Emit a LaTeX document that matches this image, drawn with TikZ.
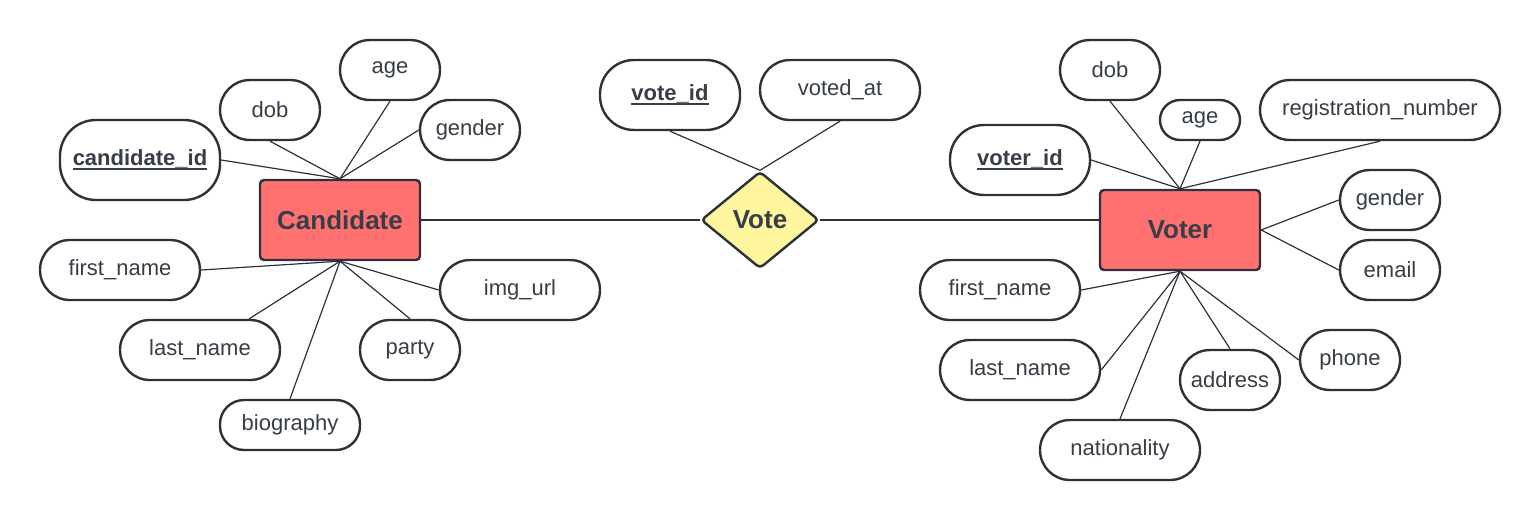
\documentclass[tikz,border=0pt]{standalone}
\usepackage{fontspec}
\setmainfont{Liberation Sans}
\usetikzlibrary{positioning,shapes.geometric}

\definecolor{inkc}{RGB}{55,62,71}
\definecolor{edgec}{RGB}{45,50,58}
\definecolor{entc}{RGB}{255,112,112}
\definecolor{relc}{RGB}{255,245,157}

% thick underline for key attributes
\newcommand\keyul[1]{\setbox0\hbox{#1}\rlap{\rule[-2.2pt]{\wd0}{0.9pt}}\box0}

\begin{document}
\begin{tikzpicture}[on grid,
    entity/.style={draw=edgec,fill=entc,line width=1.2pt,rounded corners=2pt,
      minimum width=80pt,minimum height=40pt,inner sep=0pt,text=inkc,
      font=\fontsize{13}{15}\selectfont\bfseries},
    rel/.style={diamond,draw=edgec,fill=relc,line width=1.2pt,rounded corners=2pt,
      minimum width=59pt,minimum height=48.5pt,inner sep=0pt,text=inkc,
      font=\fontsize{13}{15}\selectfont\bfseries},
    attr/.style={draw=edgec,fill=white,line width=1.2pt,rounded corners=15pt,
      minimum width=50pt,minimum height=30pt,inner sep=0pt,text=inkc,
      font=\fontsize{11}{13}\selectfont},
    wide/.style={attr,minimum width=80pt},
    key/.style={font=\fontsize{11}{13}\selectfont\bfseries},
    link/.style={color=edgec,line width=0.6pt}]
  % entities and relationship
  \node[entity] (cand) {Candidate};
  \node[rel] (vote) [right=210pt of cand] {Vote};
  \node[entity] (voter) [below right=5pt and 210pt of vote] {Voter};

  \useasboundingbox (-170pt,110pt) rectangle (600pt,-150pt);

  % candidate attributes
  \node[attr] (cage) [above right=75pt and 25pt of cand] {age};
  \node[attr] (cdob) [above left=55pt and 35pt of cand] {dob};
  \node[attr] (cgender) [above right=45pt and 65pt of cand] {gender};
  \node[wide,key,minimum height=40pt,rounded corners=18pt] (cid) [above left=30pt and 100pt of cand] {\keyul{candidate\_id}};
  \node[wide] (cfirst) [below left=25pt and 110pt of cand] {first\_name};
  \node[wide] (cimg) [below right=35pt and 90pt of cand] {img\_url};
  \node[wide] (clast) [below left=65pt and 70pt of cand] {last\_name};
  \node[attr] (cparty) [below right=65pt and 35pt of cand] {party};
  \node[attr,minimum width=70pt,minimum height=25pt,rounded corners=12pt] (cbio) [below left=102.5pt and 25pt of cand] {biography};

  % vote attributes
  \node[attr,key,minimum width=70pt,minimum height=35pt,rounded corners=17pt] (vid) [above left=62.5pt and 45pt of vote] {\keyul{vote\_id}};
  \node[wide] (vat) [above right=65pt and 40pt of vote] {voted\_at};

  % voter attributes
  \node[attr] (rdob) [above left=80pt and 35pt of voter] {dob};
  \node[attr,minimum width=40pt,minimum height=20pt,rounded corners=10pt] (rage) [above right=55pt and 10pt of voter] {age};
  \node[attr,minimum width=120pt] (rreg) [above right=60pt and 100pt of voter] {registration\_number};
  \node[attr,key,minimum width=70pt,minimum height=35pt,rounded corners=17pt] (rid) [above left=35pt and 80pt of voter] {\keyul{voter\_id}};
  \node[attr] (rgender) [above right=15pt and 105pt of voter] {gender};
  \node[attr] (remail) [below right=20pt and 105pt of voter] {email};
  \node[wide] (rfirst) [below left=30pt and 90pt of voter] {first\_name};
  \node[wide] (rlast) [below left=70pt and 80pt of voter] {last\_name};
  \node[attr] (raddr) [below right=75pt and 25pt of voter] {address};
  \node[attr] (rphone) [below right=65pt and 85pt of voter] {phone};
  \node[wide] (rnat) [below left=110pt and 30pt of voter] {nationality};

  % relationship lines
  \path[link]
    (cand.east) edge (vote.west)
    (vote.east) edge (vote.east -| voter.west)
    (vid.south) edge (vote.north)
    (vat.south) edge (vote.north);

  % candidate lines
  \path[link]
    (cand.north) edge (cage.south)
    (cand.north) edge (cdob.south)
    (cand.north) edge (cgender.west)
    (cand.north) edge (cid.east)
    (cand.south) edge (cfirst.east)
    (cand.south) edge (cimg.west)
    (cand.south) edge (clast)
    (cand.south) edge (cparty.north)
    (cand.south) edge (cbio.north);

  % voter lines
  \path[link]
    (voter.north) edge (rdob.south)
    (voter.north) edge (rage.south)
    (voter.north) edge (rreg.south)
    (voter.north) edge (rid.east)
    (voter.east) edge (rgender.west)
    (voter.east) edge (remail.west)
    (voter.south) edge (rfirst.east)
    (voter.south) edge (rlast.east)
    (voter.south) edge (raddr.north)
    (voter.south) edge (rphone.west)
    (voter.south) edge (rnat.north);
\end{tikzpicture}
\end{document}
